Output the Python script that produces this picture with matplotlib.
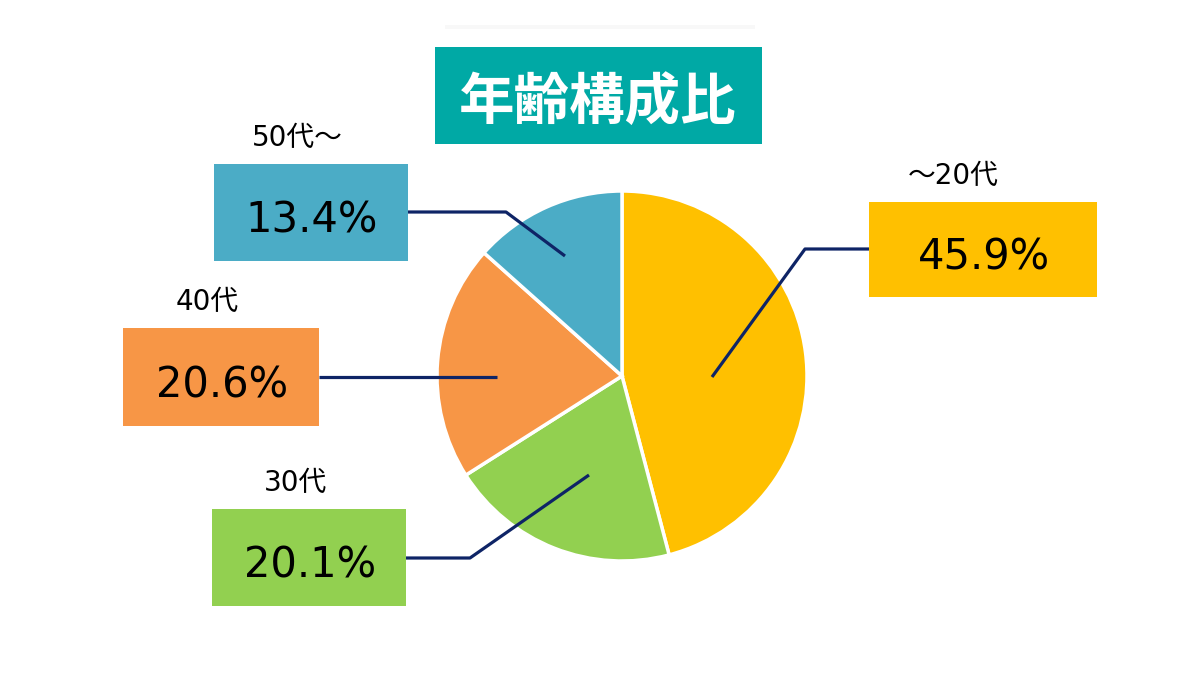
import matplotlib
matplotlib.use("Agg")
import matplotlib.pyplot as plt
from matplotlib.patches import Rectangle

plt.rcParams['font.family'] = ['Noto Sans CJK JP', 'DejaVu Sans']
LABEL_FONT = ['DejaVu Sans', 'Noto Sans CJK JP']

# データ（時計回り、上から）
title = '年齢構成比'
categories = ['～20代', '30代', '40代', '50代～']
shares = [45.9, 20.1, 20.6, 13.4]
colors = ['#FFC000', '#92D050', '#F79646', '#4BACC6']

# レイアウト（ピクセル座標、y は下向き）
W, H = 1200, 680
CX, CY, R = 622, 376, 185
# 各ラベル箱: (左, 上, 右, 下)
boxes = [(869, 202, 1097, 297),
         (212, 509, 406, 606),
         (123, 328, 319, 426),
         (214, 164, 408, 261)]
label_x = [953, 296, 207, 297]
# 引き出し線
leaders = [[(869, 249), (805, 249), (712, 377)],
           [(406, 558), (470, 558), (589, 475)],
           [(319, 377), (497, 377)],
           [(408, 212), (506, 212), (565, 256)]]
LINE_C = '#0E2466'

fig = plt.figure(figsize=(12, 6.8), dpi=100)
ax = fig.add_axes([0, 0, 1, 1])

ax.pie(shares, colors=colors, center=(CX, CY), radius=R,
       startangle=-90, counterclock=True,
       wedgeprops=dict(edgecolor='white', linewidth=2.5))

ax.set_xlim(0, W)
ax.set_ylim(H, 0)
ax.set_aspect('equal')
ax.axis('off')

# タイトル
ax.add_patch(Rectangle((445, 25), 310, 4, color='#F8F8F8', lw=0, zorder=1))
ax.add_patch(Rectangle((435, 47), 327, 97, color='#00A9A5', lw=0, zorder=2))
ax.text(598, 119, title, color='white', fontsize=40, fontweight='bold',
        ha='center', va='baseline', zorder=3)

for cat, val, col, box, lx, pts in zip(categories, shares, colors,
                                        boxes, label_x, leaders):
    x0, y0, x1, y1 = box
    ax.add_patch(Rectangle((x0, y0), x1 - x0, y1 - y0, color=col, lw=0, zorder=2))
    cy = (y0 + y1) / 2
    ax.text((x0 + x1) / 2 + 1, cy + 20, f'{val:.1f}%', fontsize=30,
            family=LABEL_FONT, ha='center', va='baseline', color='black',
            zorder=3)
    ax.text(lx, y0 - 18, cat, fontsize=20, family=LABEL_FONT,
            ha='center', va='baseline', color='black', zorder=3)
    xs, ys = zip(*pts)
    ax.plot(xs, ys, color=LINE_C, lw=2.3, solid_capstyle='butt', zorder=4)

fig.savefig('out.png', dpi=100, facecolor='white')
